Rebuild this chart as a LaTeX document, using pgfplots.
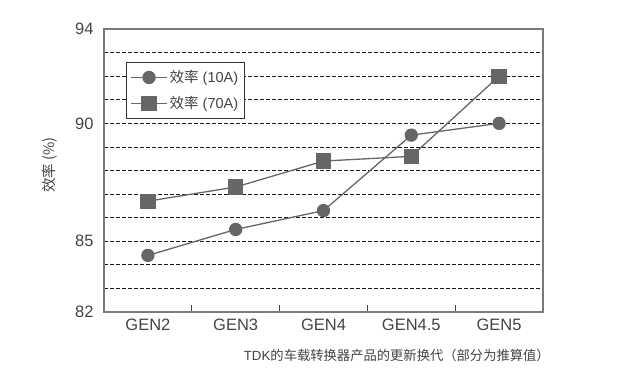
\documentclass[border=0pt]{standalone}
\usepackage{pgfplots}
\pgfplotsset{compat=1.18}
\usepackage{fontspec}
\setmainfont{Liberation Sans}
\newfontfamily\cjk{Noto Sans CJK SC}
\definecolor{lc}{HTML}{666666}
\definecolor{fc}{HTML}{7A7A7A}
\definecolor{tc}{HTML}{444444}
\begin{document}
\begin{tikzpicture}[x=1pt,y=1pt]
\useasboundingbox (0,0) rectangle (619,378);
\begin{axis}[
  at={(104pt,66pt)}, anchor=south west,
  scale only axis, width=439pt, height=283pt,
  xmin=-0.5, xmax=4.5, ymin=82, ymax=94,
  axis line style={fc, line width=1.3pt},
  xtick={0,1,2,3,4},
  xticklabels={GEN2,GEN3,GEN4,GEN4.5,GEN5},
  minor xtick={0.5,1.5,2.5,3.5},
  xtick pos=bottom, ytick pos=left,
  major tick length=0pt,
  minor tick length=7pt,
  minor tick style={tc, line width=0.8pt},
  ytick={82,85,90,94},
  yticklabels={82,85,90,94},
  minor ytick={83,84,85,86,87,88,89,90,91,92,93},
  yminorgrids=true,
  minor grid style={black!90, dash pattern=on 4pt off 2pt, line width=0.8pt},
  ytick style={draw=none},
  tick label style={font=\fontsize{16.5}{16.5}\selectfont, text=tc, /pgf/number format/assume math mode=true},
  xticklabel style={yshift=-3pt},
  yticklabel style={xshift=-7pt},
  ylabel={\cjk 效率\ (\%)},
  ylabel style={at={(axis description cs:-0.123,0.52)}, anchor=center, rotate=0, font=\fontsize{14.5}{14.5}\selectfont, text=tc},
  xlabel={TDK{\cjk 的车载转换器产品的更新换代（部分为推算值）}},
  xlabel style={at={(axis description cs:0.667,-0.152)}, anchor=center, font=\fontsize{13.3}{13.3}\selectfont, text=tc},
  legend style={at={(axis description cs:0.05,0.883)}, anchor=north west,
    draw=black!80, line width=0.9pt, fill=white, inner xsep=4pt, inner ysep=6pt,
    font=\fontsize{14.5}{14.5}\selectfont, text=tc, row sep=8pt},
  legend cell align=left,
  legend image code/.code={\draw[mark repeat=2,mark phase=2,#1] plot coordinates {(0pt,0pt)(18pt,0pt)(36pt,0pt)};},
]
\addplot[lc, line width=1.3pt, mark=*, mark size=6pt, mark options={fill=lc, draw=lc}]
  coordinates {(0,84.4) (1,85.5) (2,86.3) (3,89.5) (4,90.0)};
\addlegendentry{{\cjk 效率} (10A)}
\addplot[lc, line width=1.3pt, mark=square*, mark size=7pt, mark options={fill=lc, draw=lc}]
  coordinates {(0,86.7) (1,87.3) (2,88.4) (3,88.6) (4,92.0)};
\addlegendentry{{\cjk 效率} (70A)}
\end{axis}
\end{tikzpicture}
\end{document}
